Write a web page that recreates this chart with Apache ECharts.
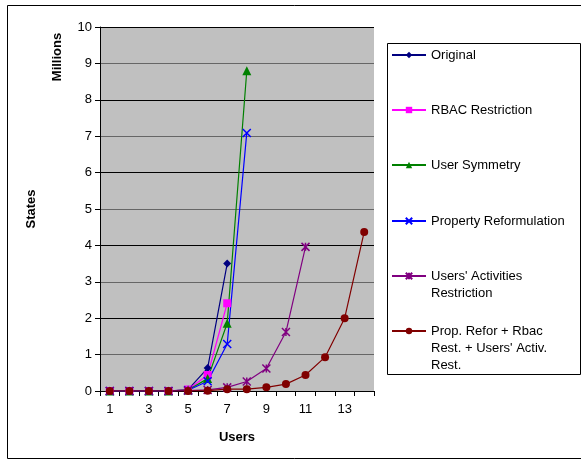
<!DOCTYPE html>
<html>
<head>
<meta charset="utf-8">
<script src="https://cdn.jsdelivr.net/npm/echarts@6/dist/echarts.min.js"></script>
<style>
  html, body { margin: 0; padding: 0; background: #fff; }
  #chart { width: 581px; height: 461px; }
</style>
</head>
<body>
<div id="chart"></div>
<script>
// x categories (number of users)
const users = ['1', '2', '3', '4', '5', '6', '7', '8', '9', '10', '11', '12', '13', '14'];

// states, in millions
const original = [0, 0, 0, 0, 0.04, 0.63, 3.5];
const rbacRestriction = [0, 0, 0, 0, 0.04, 0.44, 2.41];
const userSymmetry = [0, 0, 0, 0, 0.03, 0.34, 1.86, 8.8];
const propertyReform = [0, 0, 0, 0, 0.02, 0.27, 1.29, 7.09];
const usersActivities = [0, 0, 0, 0, 0.01, 0.03, 0.1, 0.26, 0.62, 1.62, 3.96];
const combined = [0, 0, 0, 0, 0, 0.01, 0.05, 0.05, 0.1, 0.19, 0.44, 0.93, 2.0, 4.37];

const seriesNames = [
  'Original',
  'RBAC Restriction',
  'User Symmetry',
  'Property Reformulation',
  "Users' Activities\nRestriction",
  "Prop. Refor + Rbac\nRest. + Users' Activ.\nRest."
];
const seriesData = [original, rbacRestriction, userSymmetry, propertyReform, usersActivities, combined];
const colors = ['#000080', '#FF00FF', '#008000', '#0000FF', '#800080', '#800000'];
const symbols = [
  'diamond', 'rect', 'triangle',
  'path://M0,0L10,10M10,0L0,10',
  'path://M0,0L10,10M10,0L0,10M5,0L5,10',
  'circle'
];
const symbolSizes = [8, 8, 9, 8, 8, 8];
// y of each legend entry's first line
const legendLines = [55, 110, 165, 221, 276, 331];

const chart = echarts.init(document.getElementById('chart'));

const LH = 17;
let series = [];
let legends = [];
for (let i = 0; i < seriesNames.length; i++) {
  const isPath = symbols[i].indexOf('path://') === 0;
  series.push({
    name: seriesNames[i],
    type: 'line',
    data: seriesData[i],
    symbol: symbols[i],
    symbolSize: symbolSizes[i],
    showAllSymbol: true,
    lineStyle: { color: colors[i], width: 1.2 },
    itemStyle: {
      color: isPath ? 'none' : colors[i],
      borderColor: colors[i],
      borderWidth: isPath ? 1.5 : 0
    },
    emphasis: { disabled: true },
    animation: false
  });
  const lines = seriesNames[i].split('\n').length;
  // blank lines above keep the icon on the first text line
  legends.push({
    data: [seriesNames[i]],
    left: 391,
    top: legendLines[i] - (2 * lines - 1) * LH / 2,
    orient: 'vertical',
    itemWidth: 34,
    itemHeight: 8,
    padding: 0,
    selectedMode: false,
    formatter: function (name) {
      return '\n'.repeat(lines - 1) + name;
    },
    textStyle: {
      fontFamily: 'Liberation Sans',
      fontSize: 13,
      color: '#000',
      lineHeight: LH
    }
  });
}

chart.setOption({
  animation: false,
  backgroundColor: '#fff',
  grid: { left: 100, top: 27, width: 274, height: 364, show: true, backgroundColor: '#C0C0C0', borderWidth: 0 },
  xAxis: {
    type: 'category',
    data: users,
    boundaryGap: true,
    name: 'Users',
    nameLocation: 'middle',
    nameGap: 40,
    nameTextStyle: { fontFamily: 'Liberation Sans', fontWeight: 'bold', fontSize: 13, color: '#000' },
    axisLine: { lineStyle: { color: '#000', width: 1 } },
    axisTick: { show: true, inside: false, length: 5, interval: 0, lineStyle: { color: '#000' } },
    axisLabel: { interval: 1, margin: 12, fontFamily: 'Liberation Sans', fontSize: 13, color: '#000' }
  },
  yAxis: {
    type: 'value',
    min: 0,
    max: 10,
    interval: 1,
    name: 'States',
    nameLocation: 'middle',
    nameRotate: 90,
    nameGap: 62,
    nameTextStyle: { fontFamily: 'Liberation Sans', fontWeight: 'bold', fontSize: 13, color: '#000' },
    axisLine: { show: true, lineStyle: { color: '#000', width: 1 } },
    axisTick: { show: true, length: 5, lineStyle: { color: '#000' } },
    axisLabel: { margin: 8, fontFamily: 'Liberation Sans', fontSize: 13, color: '#000' },
    splitLine: { show: true, lineStyle: { color: ['#000', '#666'], width: 1 } }
  },
  legend: legends,
  graphic: [
    // outer frame
    { type: 'rect', shape: { x: 7.5, y: 5.5, width: 580, height: 453 }, style: { fill: 'none', stroke: '#000', lineWidth: 1 }, silent: true, z: -1 },
    // legend frame
    { type: 'rect', shape: { x: 387.5, y: 43.5, width: 193, height: 331 }, style: { fill: 'none', stroke: '#000', lineWidth: 1 }, silent: true, z: -1 },
    {
      type: 'text',
      x: 57, y: 57,
      rotation: Math.PI / 2,
      style: {
        text: 'Millions', fontFamily: 'Liberation Sans', fontWeight: 'bold', fontSize: 13,
        fill: '#000', align: 'center', verticalAlign: 'middle'
      },
      silent: true
    }
  ],
  series: series
});
</script>
</body>
</html>
